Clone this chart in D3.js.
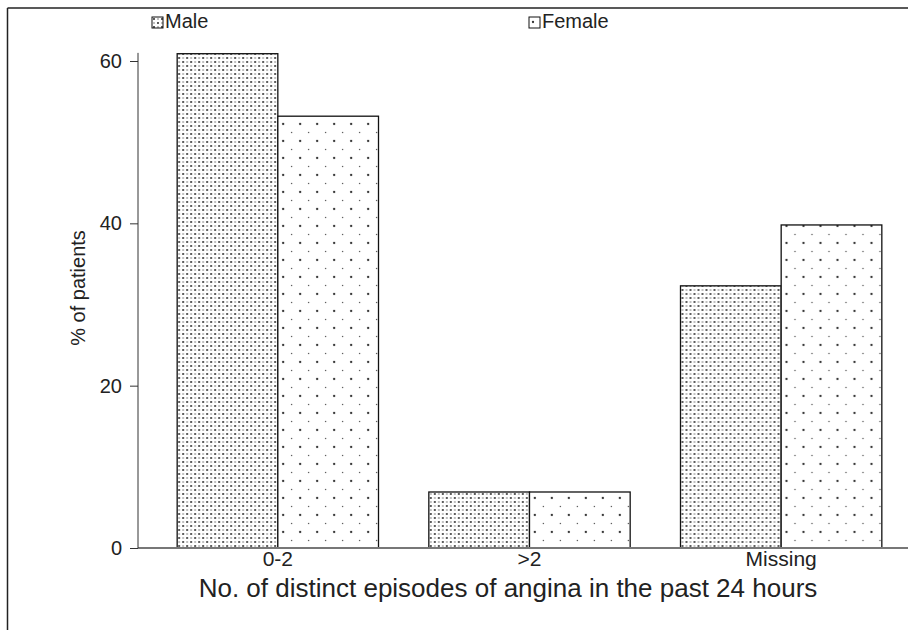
<!DOCTYPE html>
<html>
<head>
<meta charset="utf-8">
<script src="https://cdn.jsdelivr.net/npm/d3@7"></script>
<style>
  body { margin: 0; background: #fff; }
  text { font-family: "Liberation Sans", Arial, sans-serif; fill: #222; }
</style>
</head>
<body>
<div id="chart"></div>
<script>
// data
var categories = ["0-2", ">2", "Missing"];
var seriesNames = ["Male", "Female"];
var maleValues = [60.9, 6.9, 32.3];
var femaleValues = [53.2, 6.9, 39.8];
var yTicks = [0, 20, 40, 60];

var width = 908, height = 630;

var svg = d3.select("#chart").append("svg")
    .attr("width", width)
    .attr("height", height);

// fill patterns
var defs = svg.append("defs");
var pm = defs.append("pattern")
    .attr("id", "patMale")
    .attr("patternUnits", "userSpaceOnUse")
    .attr("width", 8).attr("height", 8);
pm.append("rect").attr("width", 8).attr("height", 8).attr("fill", "#fff");
pm.append("circle").attr("cx", 2).attr("cy", 2).attr("r", 1.05).attr("fill", "#333");
pm.append("circle").attr("cx", 6).attr("cy", 6).attr("r", 1.05).attr("fill", "#333");
pm.append("circle").attr("cx", 6).attr("cy", 2).attr("r", 0.7).attr("fill", "#555");
pm.append("circle").attr("cx", 2).attr("cy", 6).attr("r", 0.7).attr("fill", "#555");

var pf = defs.append("pattern")
    .attr("id", "patFemale")
    .attr("patternUnits", "userSpaceOnUse")
    .attr("width", 17).attr("height", 17);
pf.append("rect").attr("width", 17).attr("height", 17).attr("fill", "#fff");
pf.append("circle").attr("cx", 4).attr("cy", 5).attr("r", 1.15).attr("fill", "#333");
pf.append("circle").attr("cx", 12.5).attr("cy", 13.5).attr("r", 0.65).attr("fill", "#444");

var patterns = {Male: "url(#patMale)", Female: "url(#patFemale)"};

// frame lines (top and left)
svg.append("line")
    .attr("x1", 7.5).attr("y1", 8).attr("x2", width).attr("y2", 8)
    .attr("stroke", "#222").attr("stroke-width", 1.5);
svg.append("line")
    .attr("x1", 7.5).attr("y1", 8).attr("x2", 7.5).attr("y2", height)
    .attr("stroke", "#222").attr("stroke-width", 1.5);

// scales
var x0 = d3.scaleBand()
    .domain(categories)
    .range([152, 907])
    .paddingInner(0.2)
    .paddingOuter(0.1);
var x1 = d3.scaleBand()
    .domain(seriesNames)
    .range([0, x0.bandwidth()]);
var y = d3.scaleLinear()
    .domain([0, 60])
    .range([548, 61]);

var rows = categories.map(function(c, i) {
  return {cat: c, values: [
    {key: "Male", value: maleValues[i]},
    {key: "Female", value: femaleValues[i]}
  ]};
});

// bars
var groups = svg.append("g").selectAll("g")
  .data(rows)
  .enter().append("g")
    .attr("transform", function(d) { return "translate(" + x0(d.cat) + ",0)"; });

groups.selectAll("rect")
  .data(function(d) { return d.values; })
  .enter().append("rect")
    .attr("x", function(d) { return x1(d.key); })
    .attr("y", function(d) { return y(d.value); })
    .attr("width", x1.bandwidth())
    .attr("height", function(d) { return y(0) - y(d.value); })
    .attr("fill", function(d) { return patterns[d.key]; })
    .attr("stroke", "#111")
    .attr("stroke-width", 1.3);

// x axis line
svg.append("line")
    .attr("x1", 138).attr("x2", width)
    .attr("y1", y(0)).attr("y2", y(0))
    .attr("stroke", "#777").attr("stroke-width", 2);

// x category labels
svg.append("g").selectAll("text")
  .data(categories)
  .enter().append("text")
    .attr("x", function(d) { return x0(d) + x0.bandwidth() / 2; })
    .attr("y", 566)
    .attr("text-anchor", "middle")
    .style("font-size", "21px")
    .text(function(d) { return d; });

// y axis
var yAxis = svg.append("g")
    .attr("transform", "translate(138,0)")
    .call(d3.axisLeft(y).tickValues(yTicks).tickSize(8).tickPadding(8));
yAxis.select(".domain").remove();
yAxis.selectAll(".tick line").attr("stroke", "#333");
yAxis.selectAll(".tick text")
    .style("font-size", "20px")
    .style("font-family", "'Liberation Sans', Arial, sans-serif")
    .attr("fill", "#222");
svg.append("line")
    .attr("x1", 138).attr("x2", 138)
    .attr("y1", y(61)).attr("y2", y(0))
    .attr("stroke", "#333").attr("stroke-width", 1);

// axis titles
svg.append("text")
    .attr("x", 508).attr("y", 597)
    .attr("text-anchor", "middle")
    .style("font-size", "26px")
    .text("No. of distinct episodes of angina in the past 24 hours");

svg.append("text")
    .attr("transform", "translate(85,288) rotate(-90)")
    .attr("text-anchor", "middle")
    .style("font-size", "20px")
    .text("% of patients");

// legend
var legendX = [152, 529];
var legend = svg.append("g").selectAll("g")
  .data(seriesNames)
  .enter().append("g")
    .attr("transform", function(d, i) { return "translate(" + legendX[i] + ",17)"; });
legend.append("rect")
    .attr("width", 11).attr("height", 11)
    .attr("fill", function(d) { return patterns[d]; })
    .attr("stroke", "#111").attr("stroke-width", 1);
legend.append("text")
    .attr("x", 13).attr("y", 11)
    .style("font-size", "20px")
    .text(function(d) { return d; });
</script>
</body>
</html>
